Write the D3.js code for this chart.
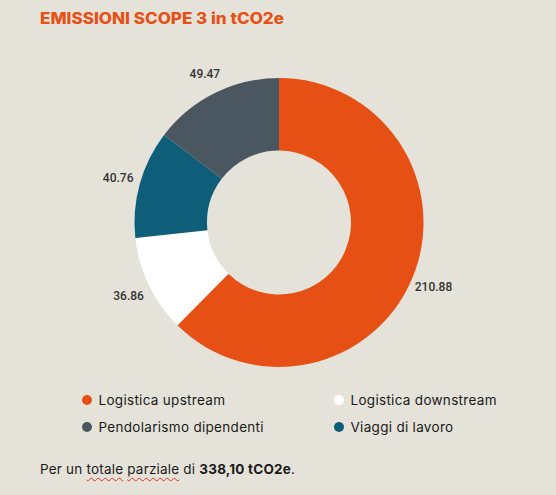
<!DOCTYPE html>
<html>
<head>
<meta charset="utf-8">
<script src="https://cdn.jsdelivr.net/npm/d3@7"></script>
<style>
  html, body { margin: 0; padding: 0; background: #e5e3d9; }
  #chart { position: relative; width: 556px; height: 495px; overflow: hidden; }
  .footer { position: absolute; left: 40px; top: 461px; font-family: Inter, sans-serif; font-size: 13.5px; letter-spacing: 0.2px; color: #1a1a1a; white-space: nowrap; }
  .footer .sp { text-decoration: underline wavy #e0302a; text-decoration-thickness: 1px; text-underline-offset: 3px; }
  .footer b { font-weight: 700; }
</style>
</head>
<body>
<div id="chart"></div>
<script>
const title = 'EMISSIONI SCOPE 3 in tCO2e';
const categories = ['Logistica upstream', 'Logistica downstream', 'Viaggi di lavoro', 'Pendolarismo dipendenti'];
const values = [210.88, 36.86, 40.76, 49.47];
const colors = ['#e65014', '#ffffff', '#0e5e7a', '#4a5760'];
const legendOrder = ['Logistica upstream', 'Logistica downstream', 'Pendolarismo dipendenti', 'Viaggi di lavoro'];
const total = '338,10 tCO2e';

const width = 556;
const height = 495;
const cx = 279;
const cy = 222.5;
const outerR = 144.5;
const innerR = 72;
const labelR = 167;

const color = d3.scaleOrdinal().domain(categories).range(colors);

const data = categories.map((name, i) => ({ name, value: values[i] }));

const svg = d3.select('#chart')
  .append('svg')
  .attr('width', width)
  .attr('height', height);

svg.append('text')
  .attr('x', 40)
  .attr('y', 24)
  .attr('fill', '#e65014')
  .style('font-family', 'Inter, sans-serif')
  .style('font-weight', 800)
  .style('font-size', '15.5px')
  .attr('textLength', 244)
  .attr('lengthAdjust', 'spacingAndGlyphs')
  .text(title);

const pie = d3.pie().sort(null).value((d) => d.value);
const arc = d3.arc().innerRadius(innerR).outerRadius(outerR);
const labelArc = d3.arc().innerRadius(labelR).outerRadius(labelR);

const g = svg.append('g')
  .attr('transform', `translate(${cx}, ${cy})`);

const slices = g.selectAll('.arc')
  .data(pie(data))
  .enter()
  .append('g')
  .attr('class', 'arc');

slices.append('path')
  .attr('d', arc)
  .style('fill', (d) => color(d.data.name));

slices.append('text')
  .attr('transform', (d) => `translate(${labelArc.centroid(d)})`)
  .attr('dy', '0.4em')
  .attr('text-anchor', 'middle')
  .style('font-family', 'Roboto, sans-serif')
  .style('font-weight', 500)
  .style('font-size', '12px')
  .style('fill', '#333')
  .text((d) => d.data.value.toFixed(2));

// legend, two columns
const legendX = d3.scalePoint().domain([0, 1]).range([87, 339]);
const legendY = d3.scalePoint().domain([0, 1]).range([400, 427]);

const legend = svg.selectAll('.legend')
  .data(legendOrder)
  .enter()
  .append('g')
  .attr('class', 'legend')
  .attr('transform', (d, i) => `translate(${legendX(i % 2)}, ${legendY(Math.floor(i / 2))})`);

legend.append('circle')
  .attr('r', 5)
  .style('fill', (d) => color(d));

legend.append('text')
  .attr('x', 11.5)
  .attr('dy', '0.35em')
  .style('font-family', 'Inter, sans-serif')
  .style('font-size', '13.5px')
  .style('letter-spacing', '0.3px')
  .style('fill', '#1a1a1a')
  .text((d) => d);

const footer = d3.select('#chart').append('div').attr('class', 'footer');
footer.append('span').text('Per un ');
footer.append('span').attr('class', 'sp').text('totale');
footer.append('span').text(' ');
footer.append('span').attr('class', 'sp').text('parziale');
footer.append('span').text(' di ');
footer.append('b').text(total);
footer.append('span').text('.');
</script>
</body>
</html>
